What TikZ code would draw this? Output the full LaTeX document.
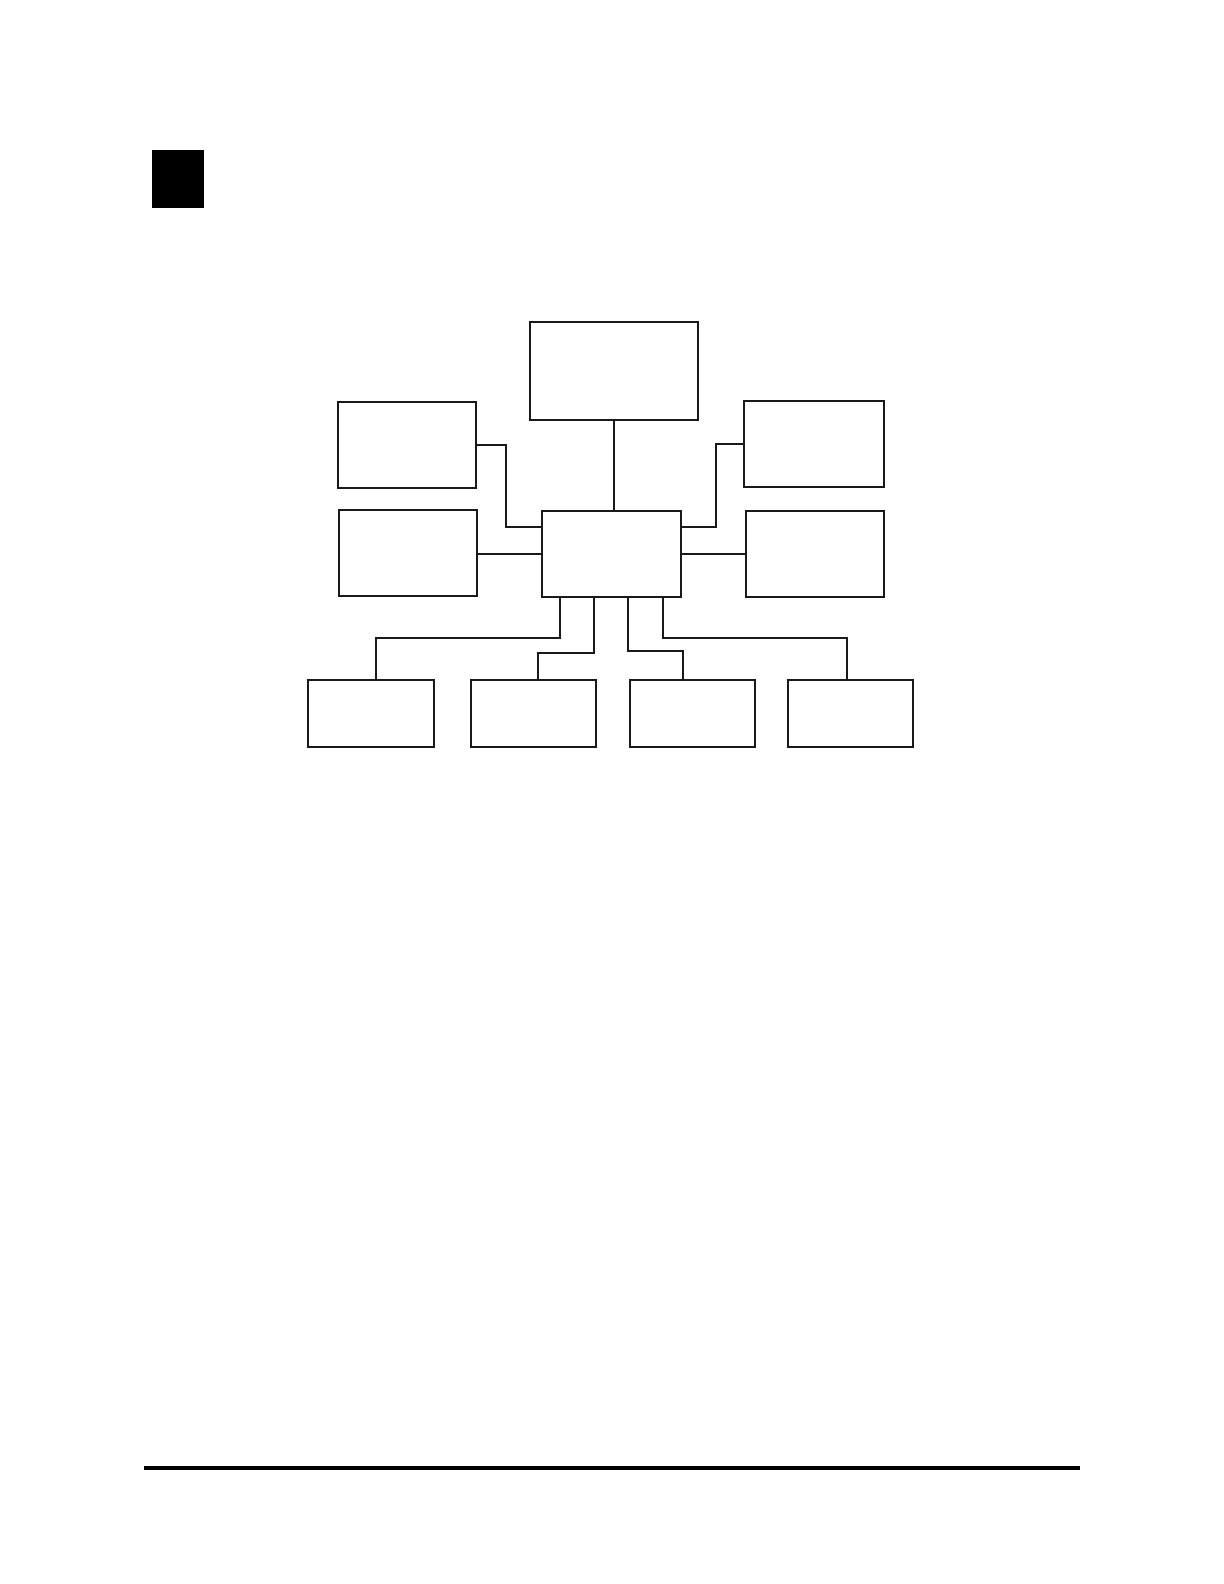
\documentclass[tikz,border=0pt]{standalone}
\begin{document}
\begin{tikzpicture}[x=0.5pt,y=-0.5pt,
  box/.style={draw=black!90,line width=0.9pt,inner sep=0pt,fill=white},
  link/.style={draw=black!90,line width=0.9pt}]
\useasboundingbox (0,0) rectangle (1224,1584);
% black square marker
\fill[black] (152,150) rectangle (204,208);
% boxes
\node[box,minimum width=84pt,minimum height=49pt] (top) at (614,371) {};
\node[box,minimum width=69pt,minimum height=43pt] (LU) at (407,445) {};
\node[box,minimum width=69pt,minimum height=43pt] (LL) at (408,553) {};
\node[box,minimum width=69.5pt,minimum height=43pt] (C) at (611.5,554) {};
\node[box,minimum width=70pt,minimum height=43pt] (RU) at (814,444) {};
\node[box,minimum width=69pt,minimum height=43pt] (RL) at (815,554) {};
\node[box,minimum width=63pt,minimum height=33.5pt] (B1) at (371,713.5) {};
\node[box,minimum width=62.5pt,minimum height=33.5pt] (B2) at (533.5,713.5) {};
\node[box,minimum width=62.5pt,minimum height=33.5pt] (B3) at (692.5,713.5) {};
\node[box,minimum width=62.5pt,minimum height=33.5pt] (B4) at (850.5,713.5) {};
% junction points
\coordinate (ja) at (506,527);
\coordinate (jb) at (716,527);
\coordinate (k1) at (560,638);  \coordinate (k1b) at (376,638);
\coordinate (k2) at (594,653);  \coordinate (k2b) at (538,653);
\coordinate (k3) at (628,651);  \coordinate (k3b) at (683,651);
\coordinate (k4) at (663,638);  \coordinate (k4b) at (847,638);
% connectors
\draw[link] (top.south) -- (top.south |- C.north);
\draw[link] (LU.east) -| (ja) -- (ja -| C.west);
\draw[link] (C.west) -- (C.west -| LL.east);
\draw[link] (C.east |- jb) -- (jb) |- (RU.west);
\draw[link] (C.east) -- (C.east -| RL.west);
\draw[link] (k1 |- C.south) -- (k1) -- (k1b) -- (k1b |- B1.north);
\draw[link] (k2 |- C.south) -- (k2) -- (k2b) -- (k2b |- B2.north);
\draw[link] (k3 |- C.south) -- (k3) -- (k3b) -- (k3b |- B3.north);
\draw[link] (k4 |- C.south) -- (k4) -- (k4b) -- (k4b |- B4.north);
% bottom rule
\draw[line width=2pt,black] (144,1468) -- (1080,1468);
\end{tikzpicture}
\end{document}
